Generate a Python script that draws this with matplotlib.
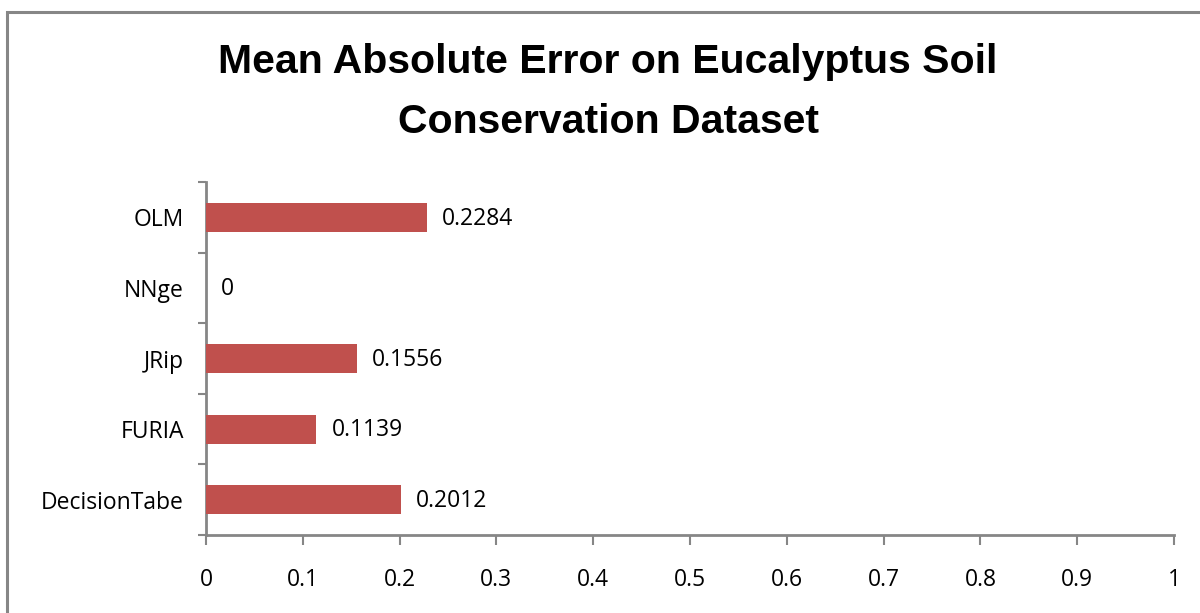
import matplotlib
matplotlib.use("Agg")
import matplotlib.pyplot as plt
from matplotlib.patches import Rectangle
from matplotlib.ticker import FixedLocator, NullFormatter
from matplotlib import font_manager

categories = ["DecisionTabe", "FURIA", "JRip", "NNge", "OLM"]
mae_values = [0.2012, 0.1139, 0.1556, 0.0, 0.2284]
value_labels = ["0.2012", "0.1139", "0.1556", "0", "0.2284"]
x_ticks = [0, 0.1, 0.2, 0.3, 0.4, 0.5, 0.6, 0.7, 0.8, 0.9, 1]
x_tick_labels = ["0", "0.1", "0.2", "0.3", "0.4", "0.5", "0.6", "0.7", "0.8", "0.9", "1"]
title_lines = ["Mean Absolute Error on Eucalyptus Soil", "Conservation Dataset"]

installed = {f.name for f in font_manager.fontManager.ttflist}
label_font = ["Open Sans", "DejaVu Sans"]
if "Liberation Sans Narrow" in installed:
    title_font = ["Liberation Sans Narrow", "DejaVu Sans"]
else:
    title_font = ["Liberation Sans", "DejaVu Sans"]

axis_grey = "#868686"
bar_red = "#C0504D"

W, H = 1200, 613
fig = plt.figure(figsize=(W / 100, H / 100), dpi=100)

# outer chart frame
fig.patches.append(Rectangle((7 / W, -0.1), 1.2, (H - 12) / H + 0.1,
                             transform=fig.transFigure, fill=False,
                             edgecolor=axis_grey, linewidth=2.2))

left, right, top, bottom = 206, 1174, 182, 535
ax = fig.add_axes([left / W, 1 - bottom / H, (right - left) / W, (bottom - top) / H])

y = list(range(len(categories)))
ax.barh(y, mae_values, height=0.41, color=bar_red, zorder=3)
for yi, v, lab in zip(y, mae_values, value_labels):
    ax.annotate(lab, (v, yi), xytext=(11, -1), textcoords="offset points",
                ha="left", va="center", fontsize=16.5, family=label_font, color="black")

ax.set_xlim(0, 1)
ax.set_ylim(-0.5, len(categories) - 0.5)

ax.set_xticks(x_ticks)
ax.set_xticklabels(x_tick_labels, fontsize=16.5, family=label_font)
ax.tick_params(axis="x", direction="out", length=7, width=1.5, color=axis_grey, pad=17)

# category labels centered, tick marks on category boundaries
ax.set_yticks(y)
ax.set_yticklabels(categories, fontsize=16.5, family=label_font)
ax.tick_params(axis="y", which="major", length=0, pad=16)
ax.yaxis.set_minor_locator(FixedLocator([i - 0.5 for i in range(len(categories) + 1)]))
ax.yaxis.set_minor_formatter(NullFormatter())
ax.tick_params(axis="y", which="minor", direction="out", length=6, width=1.5, color=axis_grey)

for s in ["top", "right"]:
    ax.spines[s].set_visible(False)
for s in ["left", "bottom"]:
    ax.spines[s].set_color(axis_grey)
    ax.spines[s].set_linewidth(2)

# two-line bold title, sized so the first line spans the target width
title_size = 32
t1 = fig.text(608 / W, 1 - 62 / H, title_lines[0], ha="center", va="center",
              fontsize=title_size, fontweight="bold", family=title_font)
t2 = fig.text(608 / W, 1 - 122 / H, title_lines[1], ha="center", va="center",
              fontsize=title_size, fontweight="bold", family=title_font)
renderer = fig.canvas.get_renderer()
w1 = t1.get_window_extent(renderer).width
scale = min(1.0, 782 / w1)
for t in (t1, t2):
    t.set_fontsize(title_size * scale)

fig.savefig("out.png", dpi=100, facecolor="white")
